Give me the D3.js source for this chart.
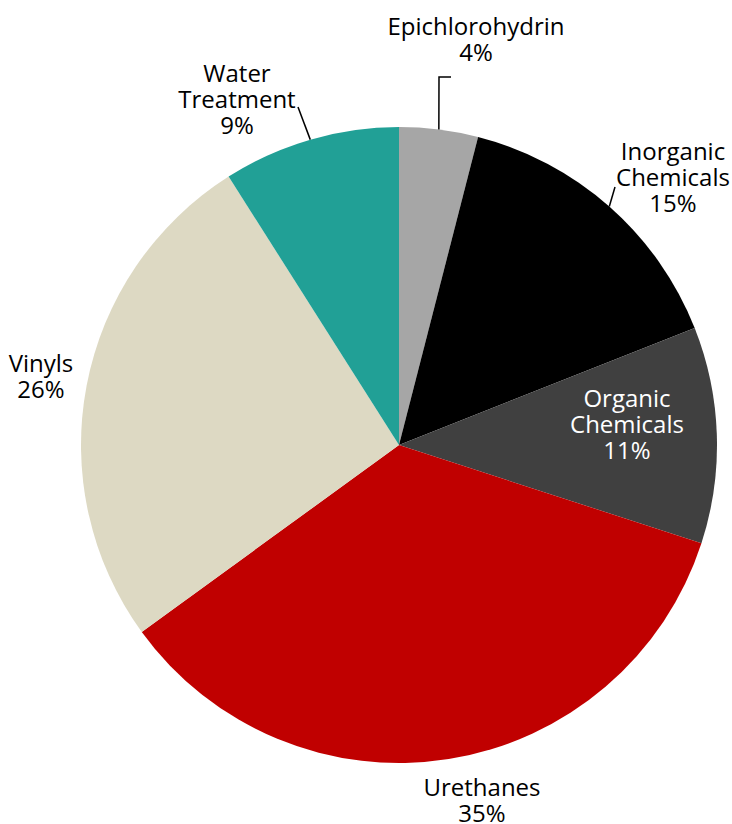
<!DOCTYPE html>
<html>
<head>
<meta charset="utf-8">
<script src="https://cdn.jsdelivr.net/npm/d3@7"></script>
<style>
  body { margin: 0; background: #fff; }
  svg { display: block; }
</style>
</head>
<body>
<script>
var categories = ["Epichlorohydrin", "Inorganic Chemicals", "Organic Chemicals", "Urethanes", "Vinyls", "Water Treatment"];
var values = [4, 15, 11, 35, 26, 9];
var colors = ["#a6a6a6", "#000000", "#404040", "#c00000", "#ddd9c3", "#21a096"];

// label lines (text split across rows) and where the block sits
var labelLines = [["Epichlorohydrin"], ["Inorganic", "Chemicals"], ["Organic", "Chemicals"], ["Urethanes"], ["Vinyls"], ["Water", "Treatment"]];
var labelPos = [[476, 35], [673, 160], [627, 407], [482, 796], [41, 372], [237, 82]];
var labelFill = ["#000", "#000", "#fff", "#000", "#000", "#000"];
// leader lines: [end point, optional elbow]
var leaders = [[[439, 77], [451, 77]], [[615, 187]], null, null, null, [[298, 107]]];

var width = 732, height = 824;
var cx = 399, cy = 445, radius = 318;
var lineH = 26;

var svg = d3.select("body").append("svg")
    .attr("width", width)
    .attr("height", height);

var pie = d3.pie().sort(null).value(function(d){ return d; });
var arcs = pie(values);

var arc = d3.arc().innerRadius(0).outerRadius(radius);
var edge = d3.arc().innerRadius(radius).outerRadius(radius);

var g = svg.append("g").attr("transform", "translate(" + cx + "," + cy + ")");

g.selectAll("path")
    .data(arcs)
    .enter().append("path")
    .attr("d", arc)
    .attr("fill", function(d, i){ return colors[i]; });

// leader lines
arcs.forEach(function(d, i){
    if (!leaders[i]) return;
    var p = edge.centroid(d);
    var pts = [[p[0] + cx, p[1] + cy]].concat(leaders[i]);
    svg.append("path")
        .attr("d", d3.line()(pts))
        .attr("fill", "none")
        .attr("stroke", "#000")
        .attr("stroke-width", 1.5);
});

// labels
arcs.forEach(function(d, i){
    var rows = labelLines[i].concat([values[i] + "%"]);
    var t = svg.append("text")
        .attr("text-anchor", "middle")
        .attr("font-family", "'Open Sans', Lato, sans-serif")
        .attr("font-size", 24)
        .attr("fill", labelFill[i]);
    t.selectAll("tspan")
        .data(rows)
        .enter().append("tspan")
        .attr("x", labelPos[i][0])
        .attr("y", function(r, k){ return labelPos[i][1] + k * lineH; })
        .text(function(r){ return r; });
});
</script>
</body>
</html>
